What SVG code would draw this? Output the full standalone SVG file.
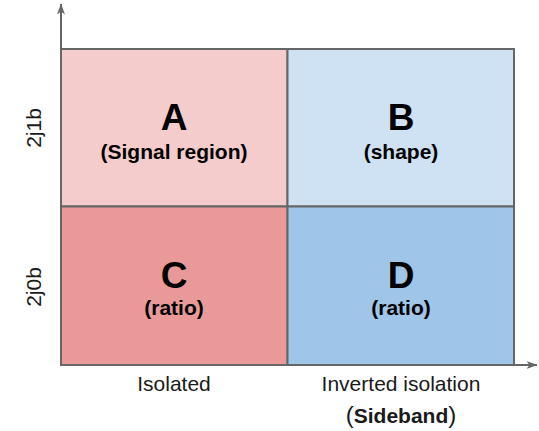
<svg xmlns="http://www.w3.org/2000/svg" width="539" height="431" viewBox="0 0 539 431">
  <style>
    .cell { stroke: #666666; stroke-width: 2; }
    .big { font-family: "Liberation Sans", Arial, sans-serif; font-weight: bold; font-size: 37px; fill: #000; text-anchor: middle; }
    .sub { font-family: "Liberation Sans", Arial, sans-serif; font-weight: bold; font-size: 21px; fill: #000; text-anchor: middle; }
    .lbl { font-family: "Liberation Sans", Arial, sans-serif; font-size: 21px; fill: #1a1a1a; text-anchor: middle; }
    .axis { stroke: #666666; stroke-width: 2; fill: none; }
  </style>
  <defs>
    <marker id="arrow" viewBox="0 0 11 8" refX="10.5" refY="4" markerWidth="11" markerHeight="8" orient="auto" markerUnits="userSpaceOnUse">
      <path d="M0,0 L11,4 L0,8 L3,4 Z" fill="#666666"/>
    </marker>
  </defs>

  <g id="cell-A">
    <rect class="cell" x="61" y="49" width="226.5" height="157.5" fill="#f4cccc"/>
    <text class="big" x="174" y="130">A</text>
    <text class="sub" x="174" y="159">(Signal region)</text>
  </g>
  <g id="cell-B">
    <rect class="cell" x="287.5" y="49" width="226.5" height="157.5" fill="#cfe2f3"/>
    <text class="big" x="401" y="130">B</text>
    <text class="sub" x="401" y="159">(shape)</text>
  </g>
  <g id="cell-C">
    <rect class="cell" x="61" y="206.5" width="226.5" height="158.5" fill="#ea9999"/>
    <text class="big" x="174" y="288">C</text>
    <text class="sub" x="174" y="315">(ratio)</text>
  </g>
  <g id="cell-D">
    <rect class="cell" x="287.5" y="206.5" width="226.5" height="158.5" fill="#9fc5e8"/>
    <text class="big" x="401" y="288">D</text>
    <text class="sub" x="401" y="315">(ratio)</text>
  </g>

  <g id="connectors">
    <line class="axis" x1="61" y1="365" x2="61" y2="4" marker-end="url(#arrow)"/>
    <line class="axis" x1="61" y1="365" x2="537" y2="365" marker-end="url(#arrow)"/>
  </g>

  <g id="labels">
    <text class="lbl" transform="translate(41,128) rotate(-90)">2j1b</text>
    <text class="lbl" transform="translate(41,287) rotate(-90)">2j0b</text>
    <text class="lbl" x="174" y="391">Isolated</text>
    <text class="lbl" x="401" y="391">Inverted isolation</text>
    <text class="lbl" x="401" y="423"><tspan font-size="24">(</tspan><tspan font-weight="bold">Sideband</tspan><tspan font-size="24">)</tspan></text>
  </g>
</svg>
